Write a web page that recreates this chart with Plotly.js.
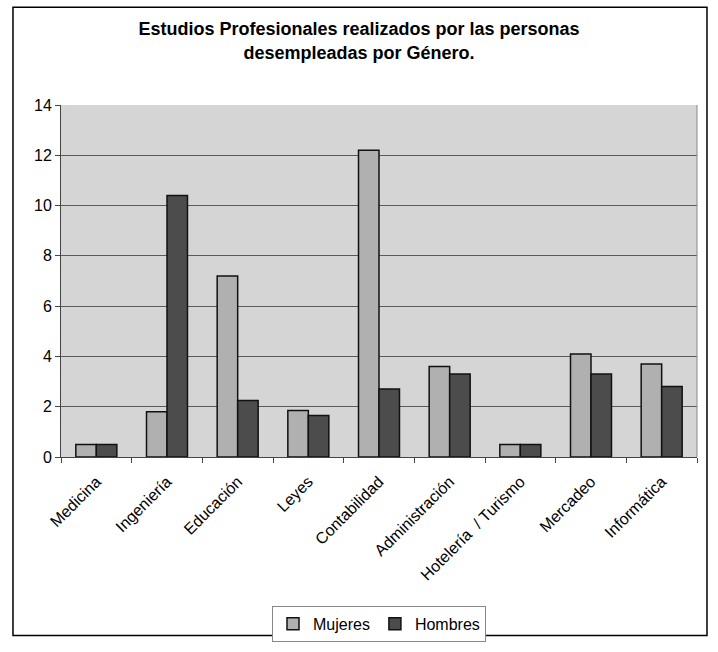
<!DOCTYPE html>
<html>
<head>
<meta charset="utf-8">
<script src="https://cdn.plot.ly/plotly-3.0.1.min.js"></script>
<style>html,body{margin:0;padding:0;background:#fff;}</style>
</head>
<body>
<div id="chart" style="width:718px;height:652px;"></div>
<script>
const categories = ["Medicina", "Ingeniería", "Educación", "Leyes", "Contabilidad", "Administración", "Hotelería  / Turismo", "Mercadeo", "Informática"];
const mujeres = [0.5, 1.8, 7.2, 1.85, 12.2, 3.6, 0.5, 4.1, 3.7];
const hombres = [0.5, 10.4, 2.25, 1.65, 2.7, 3.3, 0.5, 3.3, 2.8];
const yTicks = [0, 2, 4, 6, 8, 10, 12, 14];

const font = "Liberation Sans, Arial, sans-serif";

const traces = [
  {
    type: "bar", name: "Mujeres", x: categories, y: mujeres,
    marker: {color: "#b0b0b0", line: {color: "#111", width: 1.5}}
  },
  {
    type: "bar", name: "Hombres", x: categories, y: hombres,
    marker: {color: "#4c4c4c", line: {color: "#111", width: 1.5}}
  }
];

const layout = {
  width: 718, height: 652,
  margin: {l: 61, r: 21, t: 105, b: 194},
  paper_bgcolor: "#ffffff",
  plot_bgcolor: "#d5d5d5",
  font: {family: font, color: "#000"},
  title: {
    text: "<b>Estudios Profesionales realizados por las personas<br>desempleadas por Género.</b>",
    font: {family: font, size: 18, color: "#000"},
    x: 0.5, xref: "container", xanchor: "center",
    y: 0.946, yref: "container", yanchor: "middle"
  },
  barmode: "group",
  bargap: 0.42,
  bargroupgap: 0,
  xaxis: {
    type: "category",
    tickangle: -45,
    tickfont: {family: font, size: 16, color: "#000"},
    ticks: "outside", tickson: "boundaries", ticklen: 5, tickcolor: "#444",
    ticklabelstandoff: 8,
    showline: true, linecolor: "#444", linewidth: 1,
    showgrid: false
  },
  yaxis: {
    range: [0, 14],
    tickvals: yTicks,
    ticktext: yTicks.map(String),
    tickfont: {family: font, size: 16, color: "#000"},
    ticks: "outside", ticklen: 5, tickcolor: "#444",
    showline: true, linecolor: "#444", linewidth: 1,
    showgrid: true, gridcolor: "#5a5a5a", gridwidth: 1,
    zeroline: false
  },
  showlegend: true,
  legend: {
    orientation: "h",
    x: 0.5, xanchor: "center",
    y: -0.419, yanchor: "top",
    bordercolor: "#888", borderwidth: 1,
    bgcolor: "#ffffff",
    font: {family: font, size: 16, color: "#000"},
    itemwidth: 30
  },
  shapes: [
    {type: "rect", xref: "paper", yref: "paper",
     x0: -0.0755, x1: 1.0157, y0: -0.507, y1: 1.2776,
     line: {color: "#000", width: 1.5}, fillcolor: "rgba(0,0,0,0)"},
    {type: "line", xref: "paper", yref: "paper",
     x0: 1, x1: 1, y0: 0, y1: 1,
     line: {color: "#888", width: 1}}
  ]
};

Plotly.newPlot("chart", traces, layout, {displayModeBar: false, staticPlot: true});
</script>
</body>
</html>
